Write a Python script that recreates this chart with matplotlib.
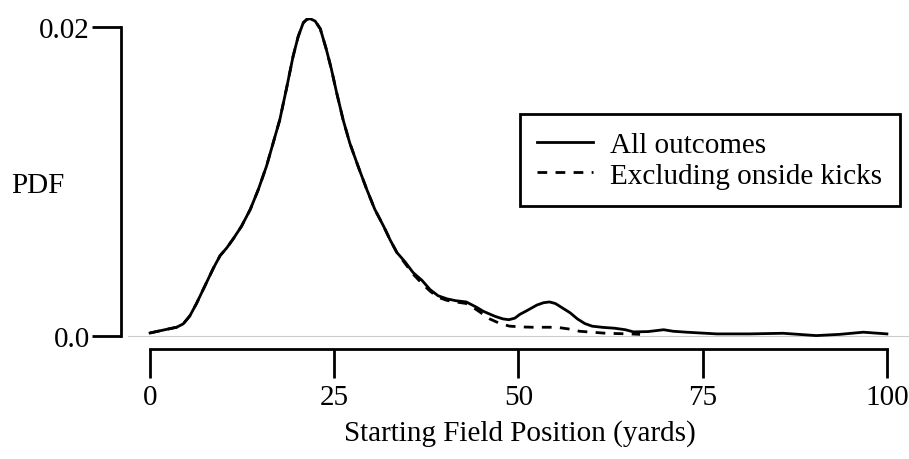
import matplotlib.pyplot as plt

plt.rcParams['font.family'] = ['Liberation Serif', 'DejaVu Serif']
plt.rcParams['font.size'] = 21

# 全部结果
x_all = [0, 2, 3.6, 4.5, 5.4, 6.3, 7.7, 8.6, 9.5, 10.4, 11.3, 12.4, 13.6, 14.7,
         15.8, 16.7, 17.6, 18.5, 19.4, 20.1, 20.8, 21.3, 21.7, 22.4, 23.1, 23.9,
         24.6, 25.3, 26.2, 27.1, 28.3, 29.4, 30.5, 31.7, 32.6, 33.5, 34.6, 35.7,
         36.9, 38.0, 39.1, 40.3, 41.5, 42.9, 44.3, 45.2, 46.8, 47.9, 48.7, 49.5,
         50.2, 51, 52.5, 53.4, 54.2, 55, 56, 57, 58, 59, 60, 61.5, 63, 64.5,
         65.6, 67.6, 69.7, 71, 72.8, 76.9, 81.4, 85.9, 90.4, 93.6, 96.8, 100]
pdf_all = [0.00019, 0.0004, 0.00056, 0.00078, 0.0013, 0.0021, 0.0035, 0.0044,
           0.0052, 0.0057, 0.0063, 0.0071, 0.0082, 0.0095, 0.0110, 0.0125,
           0.0140, 0.0160, 0.0181, 0.0194, 0.0203, 0.02052, 0.02056, 0.0204,
           0.0199, 0.0186, 0.0173, 0.0158, 0.0140, 0.0125, 0.0109, 0.0095,
           0.0082, 0.0071, 0.0062, 0.0054, 0.0048, 0.0041, 0.0036, 0.0030,
           0.0026, 0.0024, 0.00228, 0.0022, 0.00186, 0.0016, 0.00127, 0.0011,
           0.00105, 0.00115, 0.0014, 0.0016, 0.0020, 0.00215, 0.0022, 0.0021,
           0.0018, 0.0015, 0.0011, 0.0008, 0.00063, 0.00055, 0.0005, 0.0004,
           0.00026, 0.00028, 0.0004, 0.0003, 0.00024, 0.00013, 0.00013,
           0.00017, 0.00002, 0.0001, 0.00024, 0.00013]

# 排除 onside kick
x_excl = [0, 2, 3.6, 4.5, 5.4, 6.3, 7.7, 8.6, 9.5, 10.4, 11.3, 12.4, 13.6, 14.7,
          15.8, 16.7, 17.6, 18.5, 19.4, 20.1, 20.8, 21.3, 21.7, 22.4, 23.1,
          23.9, 24.6, 25.3, 26.2, 27.1, 28.3, 29.4, 30.5, 31.7, 32.6, 33.5, 34.6,
          35.7, 36.9, 38.0, 39.1, 40.3, 41.5, 42.9, 44.3, 45.2, 46.1, 47.5, 48.8,
          50.5, 52, 55.2, 56.8, 58.3, 61.9, 65.1, 66.5]
pdf_excl = [0.00019, 0.0004, 0.00056, 0.00078, 0.0013, 0.0021, 0.0035, 0.0044,
            0.0052, 0.0057, 0.0063, 0.0071, 0.0082, 0.0095, 0.0110, 0.0125,
            0.0140, 0.0160, 0.0181, 0.0194, 0.0203, 0.02052, 0.02056, 0.0204,
            0.0199, 0.0186, 0.0173, 0.0158, 0.0140, 0.0125, 0.0109, 0.0095,
            0.0082, 0.0071, 0.0062, 0.0054, 0.0047, 0.0040, 0.0034, 0.0029,
            0.0025, 0.0023, 0.0022, 0.0021, 0.0017, 0.0014, 0.0011, 0.0008,
            0.00063, 0.00058, 0.00056, 0.00056, 0.00045, 0.0003, 0.00017,
            0.00013, 0.0001]

xticks = [0, 25, 50, 75, 100]
yticks = [0.0, 0.02]
ytick_labels = ['0.0', '0.02']

fig = plt.figure(figsize=(9.09, 4.60), dpi=100)
ax = fig.add_axes([0.1408, 0.2609, 0.8592, 0.6978])

ax.axhline(0, color='#cccccc', lw=0.8, zorder=0)
ax.plot(x_all, pdf_all, color='black', lw=2, label='All outcomes')
ax.plot(x_excl, pdf_excl, color='black', lw=2, linestyle=(0, (3.5, 3)),
        label='Excluding onside kicks')

ax.set_xlim(-3, 103)
ax.set_ylim(-0.0002, 0.0206)

# 坐标轴样式
for s in ['top', 'right']:
    ax.spines[s].set_visible(False)
ax.spines['left'].set_position(('outward', 5))
ax.spines['bottom'].set_position(('outward', 7.2))
ax.spines['left'].set_bounds(0, 0.02)
ax.spines['bottom'].set_bounds(0, 100)
ax.spines['left'].set_linewidth(2)
ax.spines['bottom'].set_linewidth(2)

ax.set_xticks(xticks)
ax.set_yticks(yticks)
ax.set_yticklabels(ytick_labels)
ax.tick_params(axis='both', length=21, width=2, direction='out')
ax.tick_params(axis='y', pad=1.5)
ax.tick_params(axis='x', pad=4)

ax.set_xlabel('Starting Field Position (yards)')
ax.xaxis.set_label_coords(0.502, -0.25)
ax.set_ylabel('PDF', rotation=0, ha='center', va='center')
ax.yaxis.set_label_coords(-0.115, 0.48)

leg = ax.legend(loc='upper right', bbox_to_anchor=(0.988, 0.701),
                handlelength=1.9, handletextpad=0.6, borderpad=0.6,
                labelspacing=0.15, fancybox=False, framealpha=1,
                borderaxespad=0)
leg.get_frame().set_edgecolor('black')
leg.get_frame().set_linewidth(2)

plt.savefig('out.png', dpi=100)
